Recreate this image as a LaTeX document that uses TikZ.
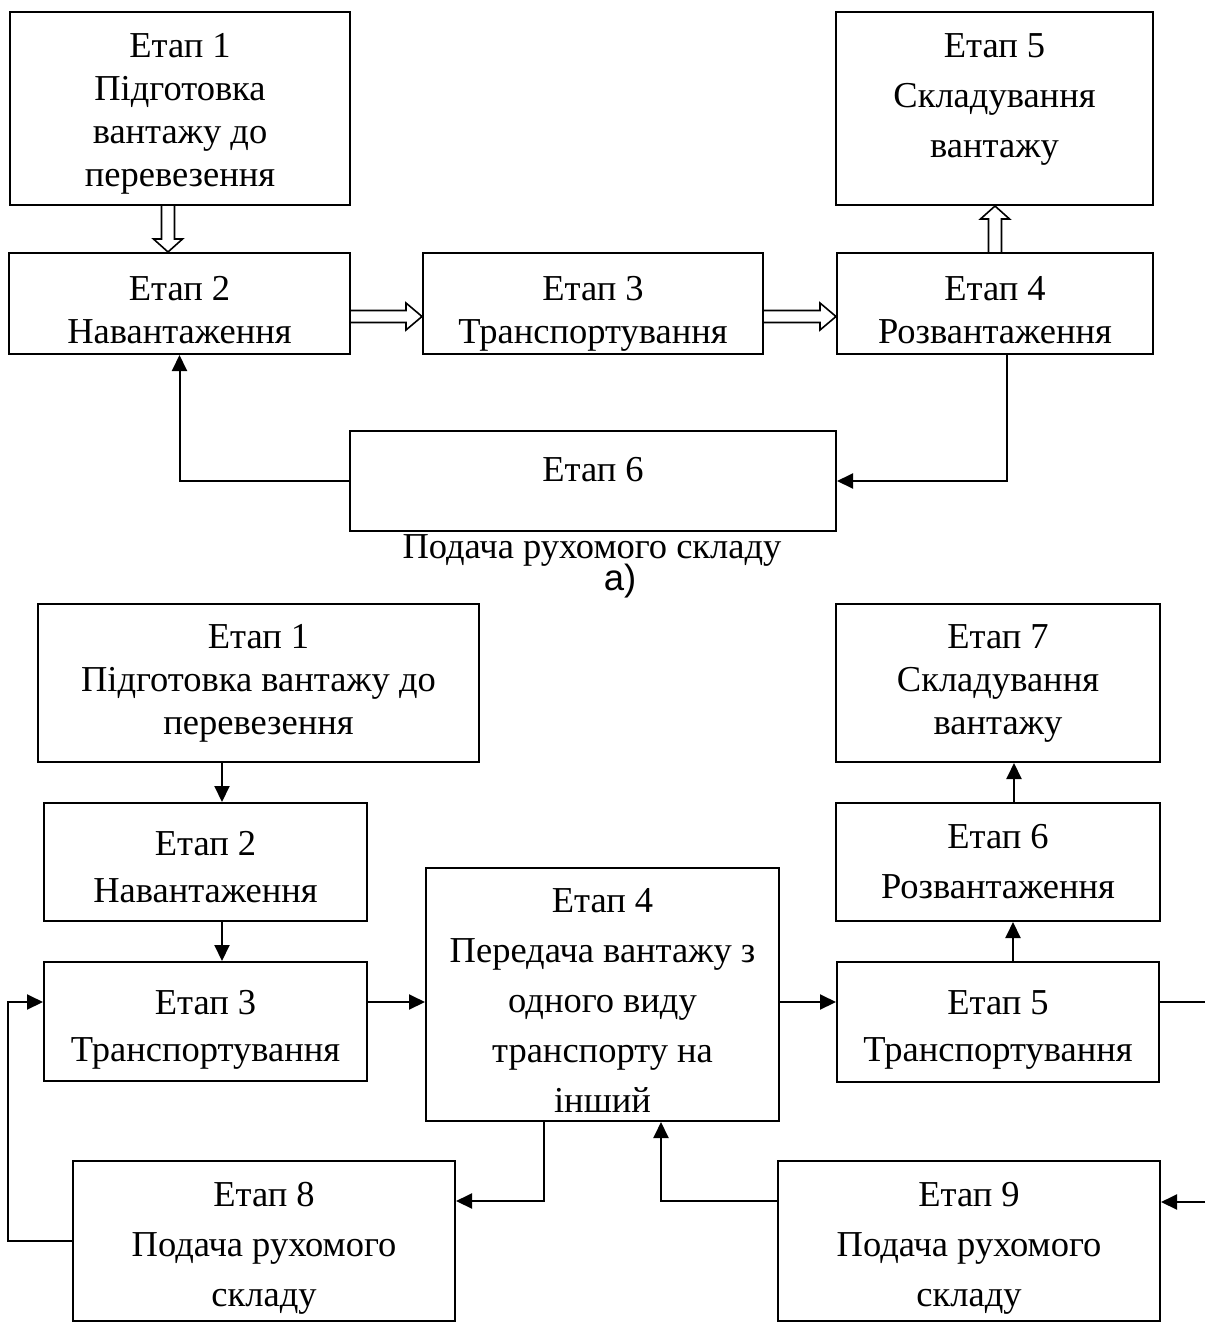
\documentclass[tikz,border=0pt]{standalone}
\usepackage{fontspec}
\setmainfont{Liberation Serif}
\newfontfamily\capfont{Liberation Sans}
\usetikzlibrary{arrows.meta,calc}
\tikzset{
  box/.style={draw, line width=2pt, align=center, inner sep=0pt, font=\fontsize{36.5}{43}\selectfont},
  txt/.style={align=center, inner sep=0pt, font=\fontsize{36.5}{43}\selectfont},
  sp47/.style={font=\fontsize{36.5}{47}\selectfont},
  sp50/.style={font=\fontsize{36.5}{50}\selectfont},
  conn/.style={line width=2pt, -{Triangle[length=16pt,width=15pt]}},
  plain/.style={line width=2pt},
  hollow/.style={line width=1.6pt, line join=miter},
}
% pushes the text of a box down by #1 pt
\newcommand\dn[1]{\rule{0pt}{\dimexpr 24pt+#1pt*2\relax}}
\newcommand\hollowD[2]{\draw[hollow] let \p1=(#1), \p2=(#2) in (\x1-6.5pt,\y1) -- (\x1-6.5pt,\y2+13pt) -- (\x1-14.5pt,\y2+13pt) -- (\x1,\y2) -- (\x1+14.5pt,\y2+13pt) -- (\x1+6.5pt,\y2+13pt) -- (\x1+6.5pt,\y1);}
\newcommand\hollowU[2]{\draw[hollow] let \p1=(#1), \p2=(#2) in (\x1-6.5pt,\y1) -- (\x1-6.5pt,\y2-13pt) -- (\x1-14.5pt,\y2-13pt) -- (\x1,\y2) -- (\x1+14.5pt,\y2-13pt) -- (\x1+6.5pt,\y2-13pt) -- (\x1+6.5pt,\y1);}
\newcommand\hollowR[2]{\draw[hollow] let \p1=(#1), \p2=(#2) in (\x1,\y1+6pt) -- (\x2-16pt,\y1+6pt) -- (\x2-16pt,\y1+13.5pt) -- (\x2,\y1) -- (\x2-16pt,\y1-13.5pt) -- (\x2-16pt,\y1-6pt) -- (\x1,\y1-6pt);}
\begin{document}
\begin{tikzpicture}[x=1pt,y=-1pt]
\useasboundingbox (0,0) rectangle (1205,1322);
% ---------- a) ----------
\node[box, minimum width=340pt, minimum height=193pt] (b1) at (180,108.5) {\dn{5}Етап 1\\Підготовка\\вантажу до\\перевезення};
\node[box, minimum width=317pt, minimum height=193pt] (b5) at (994.5,108.5) {};
\node[txt, sp50] (b5t) at (994.5,99) {Етап 5\\Складування\\вантажу};
\node[box, minimum width=341pt, minimum height=101pt] (b2) at (179.5,303.5) {\dn{7}Етап 2\\Навантаження};
\node[box, minimum width=340pt, minimum height=101pt] (b3) at (593,303.5) {\dn{10}Етап 3\\Транспортування};
\node[box, minimum width=316pt, minimum height=101pt] (b4) at (995,303.5) {\dn{7}Етап 4\\Розвантаження};
\node[box, minimum width=486pt, minimum height=100pt] (b6) at (593,481) {};
\node[txt] (b6t) at (593,470) {Етап 6};
\node[txt] (b6l) at (592,550) {Подача рухомого складу};
\node[txt, font=\capfont\fontsize{36.5}{43}\selectfont] (capa) at (620,581) {а)};

\hollowD{[xshift=-12pt]b1.south}{[xshift=-12pt]b1.south |- b2.north}
\hollowR{[yshift=-13pt]b2.east}{[yshift=-13pt]b2.east -| b3.west}
\hollowR{[yshift=-13pt]b3.east}{[yshift=-13pt]b3.east -| b4.west}
\hollowU{b4.north}{b4.north |- b5.south}
\draw[conn] ([xshift=12pt]b4.south) |- (b6.east);
\draw[conn] (b6.west) -| (b2.south);

% ---------- b) ----------
\node[box, minimum width=441pt, minimum height=158pt] (B1) at (258.5,683) {Етап 1\\Підготовка вантажу до\\перевезення};
\node[box, minimum width=324pt, minimum height=158pt] (B7) at (998,683) {Етап 7\\Складування\\вантажу};
\node[box, sp47, minimum width=323pt, minimum height=118pt] (B2) at (205.5,862) {\dn{5}Етап 2\\Навантаження};
\node[box, sp50, minimum width=324pt, minimum height=118pt] (B6) at (998,862) {Етап 6\\Розвантаження};
\node[box, sp47, minimum width=323pt, minimum height=119pt] (B3) at (205.5,1021.5) {\dn{8}Етап 3\\Транспортування};
\node[box, sp47, minimum width=322pt, minimum height=120pt] (B5) at (998,1022) {\dn{8}Етап 5\\Транспортування};
\node[box, sp50, minimum width=353pt, minimum height=253pt] (B4) at (602.5,994.5) {\dn{6}Етап 4\\Передача вантажу з\\одного виду\\транспорту на\\інший};
\node[box, sp50, minimum width=382pt, minimum height=160pt] (B8) at (264,1241) {\dn{7}Етап 8\\Подача рухомого\\складу};
\node[box, sp50, minimum width=382pt, minimum height=160pt] (B9) at (969,1241) {\dn{7}Етап 9\\Подача рухомого\\складу};

\coordinate (eR1) at (1205,1002);
\coordinate (eR2) at (1205,1202);

\draw[conn] ([xshift=-36.5pt]B1.south) -- ([xshift=-36.5pt]B1.south |- B2.north);
\draw[conn] ([xshift=16.5pt]B2.south) -- ([xshift=16.5pt]B2.south |- B3.north);
\draw[conn] ([yshift=19.5pt]B3.east) -- ([yshift=19.5pt]B3.east -| B4.west);
\draw[conn] ([yshift=20pt]B5.west -| B4.east) -- ([yshift=20pt]B5.west);
\draw[conn] ([xshift=15pt]B5.north) -- ([xshift=15pt]B5.north |- B6.south);
\draw[conn] ([xshift=16pt]B6.north) -- ([xshift=16pt]B6.north |- B7.south);
\draw[plain] ([yshift=20pt]B5.east) -- (eR1);
\draw[conn] (eR2) -- ([yshift=39pt]B9.east);
\draw[conn] ([xshift=-58.5pt]B4.south) |- ([yshift=40pt]B8.east);
\draw[conn] ([yshift=40pt]B9.west) -| ([xshift=58.5pt]B4.south);
\draw[conn] (B8.west) -- ++(-64,0) |- ([yshift=19.5pt]B3.west);
\end{tikzpicture}
\end{document}
